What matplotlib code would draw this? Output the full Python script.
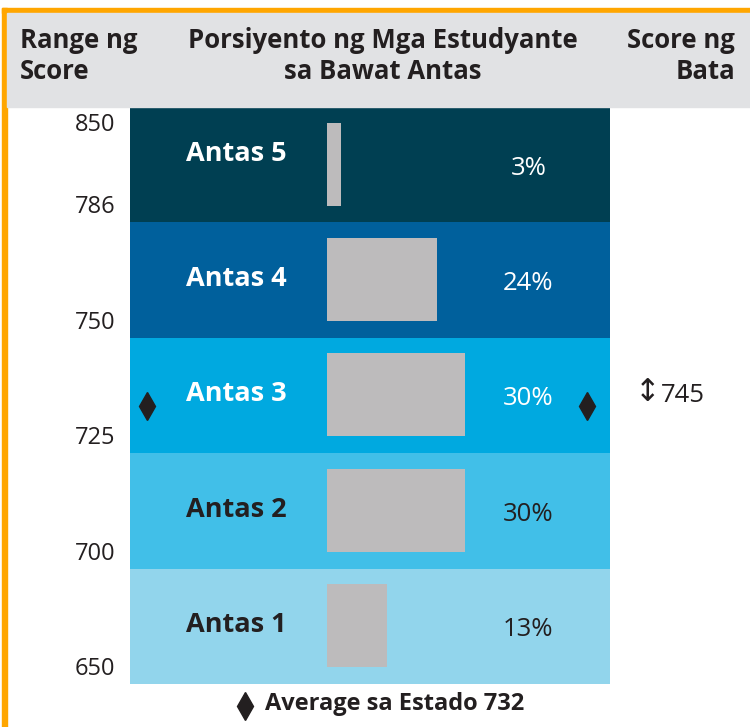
import numpy as np
import matplotlib.pyplot as plt
from matplotlib.patches import Rectangle
import matplotlib.transforms as mtransforms

plt.rcParams['font.family'] = ['Open Sans', 'DejaVu Sans']

levels = ["Antas 1", "Antas 2", "Antas 3", "Antas 4", "Antas 5"]
percents = [13, 30, 30, 24, 3]
band_colors = ["#92D5EC", "#41BFE8", "#00A9E0", "#00609C", "#003F52"]
pct_colors = ["#231F20", "#231F20", "white", "white", "white"]
score_bounds = [650, 700, 725, 750, 786, 850]
state_avg = 732
child_score = 745
child_level = 2

W, H = 750, 727
fig = plt.figure(figsize=(W / 100, H / 100), dpi=100)

# frame: orange border and grey header
fig.patches.append(Rectangle((2 / W, 0), 5 / W, 1 - 8 / H, transform=fig.transFigure,
                             color="#FFA600", zorder=0))
fig.patches.append(Rectangle((2 / W, 1 - 13 / H), 1, 5 / H, transform=fig.transFigure,
                             color="#FFA600", zorder=0))
fig.patches.append(Rectangle((7 / W, 1 - 107 / H), 1, 94 / H, transform=fig.transFigure,
                             color="#E1E2E4", zorder=0))

hdr = dict(fontsize=18.5, fontweight="bold", color="#231F20", linespacing=1.2)
fig.text(20 / W, 1 - 56 / H, "Range ng\nScore", ha="left", va="center", **hdr)
fig.text(383 / W, 1 - 56 / H, "Porsiyento ng Mga Estudyante\nsa Bawat Antas",
         ha="center", va="center", multialignment="center", **hdr)
fig.text(735 / W, 1 - 56 / H, "Score ng\nBata", ha="right", va="center",
         multialignment="right", **hdr)

ax = fig.add_axes([130 / W, (H - 684) / H, 480 / W, 577 / H])
x0, x1 = -42.8, 61.5
ax.set_xlim(x0, x1)
ax.set_ylim(-0.5, 4.5)
ax.axis("off")

y = np.arange(len(levels))
ax.barh(y, x1 - x0, left=x0, height=1.0, color=band_colors, zorder=1)
ax.barh(y + 0.005, percents, left=0, height=0.72, color="#BDBBBC", zorder=2)

bt = mtransforms.blended_transform_factory(ax.transAxes, ax.transData)
for i, (lab, p) in enumerate(zip(levels, percents)):
    ax.text(0.117, i + 0.01 + (0.08 if i == 4 else 0), lab, transform=bt, ha="left",
            va="center", fontsize=19.5, fontweight="bold", color=pct_colors[i], zorder=3)
    ax.text(0.83, i - 0.03, f"{p}%", transform=bt, ha="center", va="center",
            fontsize=18.5, color=pct_colors[i], zorder=3)

# score labels
edges = np.arange(len(score_bounds)) - 0.5
for s in score_bounds:
    yy = min(np.interp(s, score_bounds, edges) + 0.13, 4.34)
    ax.text(-0.03, yy, str(s), transform=bt, ha="right", va="center",
            fontsize=17, color="#231F20", clip_on=False)

# state average diamonds
ya = np.interp(state_avg, score_bounds, edges) + 0.13
ax.plot([0.035, 0.952], [ya, ya], transform=bt, ls="none", marker="d",
        ms=14, color="#231F20", zorder=4, clip_on=False)

# child score
ax.text(1.052, child_level + 0.02, "\u2195", transform=bt, ha="left",
        va="center", fontsize=22, color="#231F20", clip_on=False)
ax.text(1.105, child_level, str(child_score), transform=bt, ha="left",
        va="center", fontsize=18.5, color="#231F20", clip_on=False)

# legend
fig.lines.append(plt.Line2D([245 / W], [1 - 706 / H], transform=fig.transFigure,
                            marker="d", ms=14, color="#231F20", ls="none"))
fig.text(265 / W, 1 - 704 / H, f"Average sa Estado {state_avg}", ha="left",
         va="center", fontsize=17, fontweight="bold", color="#231F20")

fig.savefig("out.png", dpi=100)
